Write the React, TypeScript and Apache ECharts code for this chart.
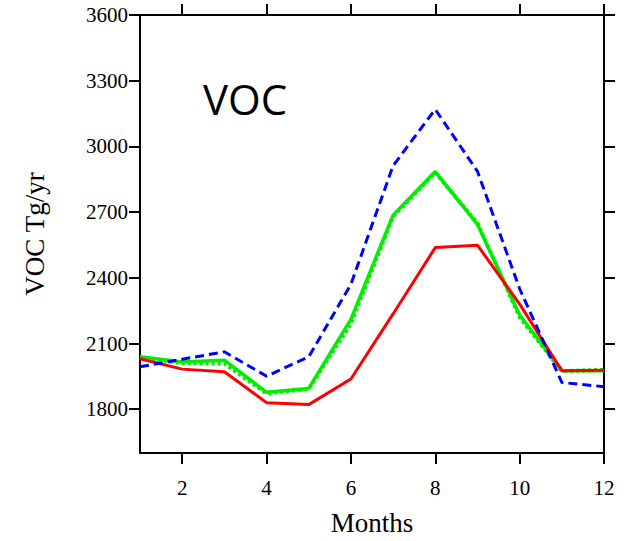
import React, { useEffect, useRef } from "react";
import * as echarts from "echarts";

const months = [1, 2, 3, 4, 5, 6, 7, 8, 9, 10, 11, 12];
const redValues = [2030, 1983, 1971, 1830, 1821, 1938, 2235, 2538, 2549, 2280, 1976, 1978];
const greenValues = [2040, 2016, 2024, 1877, 1895, 2210, 2686, 2885, 2644, 2230, 1976, 1976];
const greenDotValues = [2035, 2010, 2008, 1872, 1893, 2190, 2680, 2880, 2650, 2220, 1974, 1980];
const blueValues = [1994, 2028, 2062, 1951, 2039, 2370, 2912, 3169, 2886, 2350, 1922, 1903];
const yTicks = [1800, 2100, 2400, 2700, 3000, 3300, 3600];
const xTicks = [2, 4, 6, 8, 10, 12];

const pair = (vals: number[]) => months.map((m, i) => [m, vals[i]]);

export default function App() {
  const ref = useRef<HTMLDivElement>(null);
  useEffect(() => {
    const chart = echarts.init(ref.current!, null, { renderer: "svg" });
    const axisLine = { show: true, lineStyle: { color: "#000", width: 2 } };
    const tick = (vals: number[]) => ({
      show: true,
      inside: false,
      length: 11,
      customValues: vals,
      lineStyle: { color: "#000", width: 2 },
    });
    const serif = "'Liberation Serif', 'Times New Roman', serif";
    chart.setOption({
      animation: false,
      backgroundColor: "#fff",
      grid: { left: 140, right: 25, top: 15, bottom: 85 },
      xAxis: [
        {
          type: "value",
          min: 1,
          max: 12,
          position: "bottom",
          axisLine,
          axisTick: tick(xTicks),
          splitLine: { show: false },
          axisLabel: {
            customValues: xTicks,
            formatter: (v: number) => String(v),
            color: "#000",
            fontFamily: serif,
            fontSize: 21,
            margin: 24,
          },
          name: "Months",
          nameLocation: "middle",
          nameGap: 56,
          nameTextStyle: { color: "#000", fontFamily: serif, fontSize: 27 },
        },
        {
          type: "value",
          min: 1,
          max: 12,
          position: "top",
          axisLine,
          axisTick: tick(xTicks),
          splitLine: { show: false },
          axisLabel: { show: false },
        },
      ],
      yAxis: [
        {
          type: "value",
          min: 1600,
          max: 3600,
          position: "left",
          axisLine,
          axisTick: tick(yTicks),
          splitLine: { show: false },
          axisLabel: {
            customValues: yTicks,
            formatter: (v: number) => String(v),
            color: "#000",
            fontFamily: serif,
            fontSize: 21,
            margin: 12,
          },
          name: "VOC Tg/yr",
          nameLocation: "middle",
          nameGap: 92,
          nameTextStyle: { color: "#000", fontFamily: serif, fontSize: 27 },
        },
        {
          type: "value",
          min: 1600,
          max: 3600,
          position: "right",
          axisLine,
          axisTick: tick(yTicks),
          splitLine: { show: false },
          axisLabel: { show: false },
        },
      ],
      graphic: [
        {
          type: "text",
          left: 203,
          top: 77,
          style: {
            text: "VOC",
            fontFamily: "'Open Sans', 'Noto Sans', sans-serif",
            fontSize: 42,
            fill: "#000",
          },
        },
      ],
      series: [
        {
          type: "line",
          data: pair(greenDotValues),
          showSymbol: false,
          lineStyle: { color: "#00ee00", width: 4, type: [3, 3] },
          z: 2,
        },
        {
          type: "line",
          data: pair(greenValues),
          showSymbol: false,
          lineStyle: { color: "#00ee00", width: 3.5 },
          z: 3,
        },
        {
          type: "line",
          data: pair(redValues),
          showSymbol: false,
          lineStyle: { color: "#ff0000", width: 3 },
          z: 4,
        },
        {
          type: "line",
          data: pair(blueValues),
          showSymbol: false,
          lineStyle: { color: "#0000ff", width: 3, type: [9, 5] },
          z: 5,
        },
      ],
    });
    return () => chart.dispose();
  }, []);
  return (
    <div
      ref={ref}
      style={{ position: "fixed", left: 0, top: 0, width: 629, height: 541 }}
    />
  );
}
